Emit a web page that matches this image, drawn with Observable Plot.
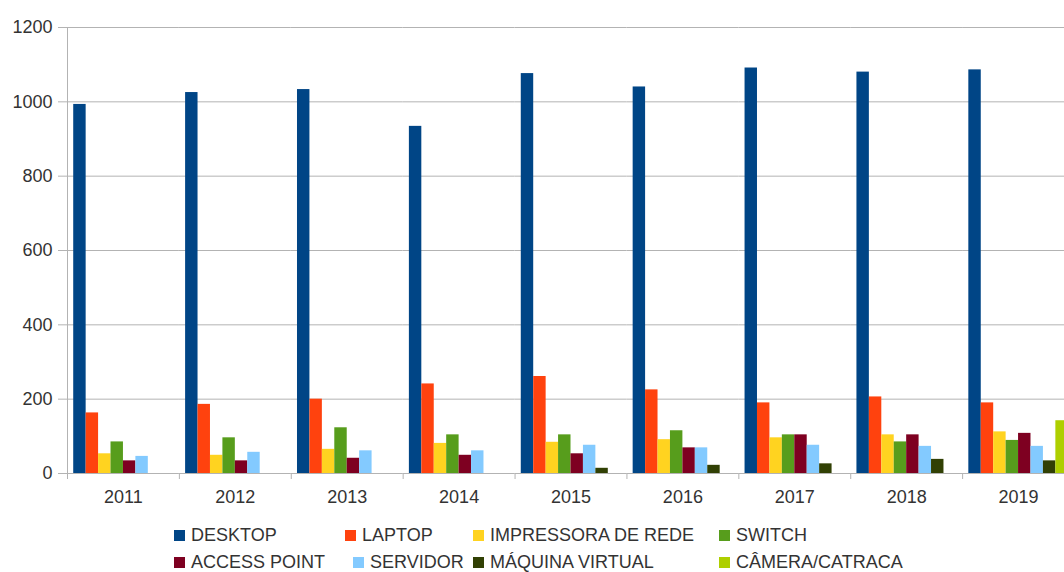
<!DOCTYPE html>
<html>
<head>
<meta charset="utf-8">
<script src="https://cdn.jsdelivr.net/npm/d3@7"></script>
<script src="https://cdn.jsdelivr.net/npm/@observablehq/plot@0.6"></script>
<style>
  html, body { margin: 0; padding: 0; background: #fff; }
  html { overflow: hidden; }
  body { width: 1064px; height: 572px; overflow: hidden; position: relative; font-family: "Liberation Sans", Arial, sans-serif; }
  #chart { position: absolute; left: 0; top: 0; width: 1074px; }
  #chart svg { max-width: none !important; }
  .leg { position: absolute; font-size: 18px; color: #333; line-height: 18px; white-space: nowrap; }
  .sw { position: absolute; width: 11px; height: 11px; }
</style>
</head>
<body>
<div id="chart"></div>
<div id="legend"></div>
<script>
// ---- data ----
const years = ["2011", "2012", "2013", "2014", "2015", "2016", "2017", "2018", "2019"];
const series = ["DESKTOP", "LAPTOP", "IMPRESSORA DE REDE", "SWITCH", "ACCESS POINT", "SERVIDOR", "MÁQUINA VIRTUAL", "CÂMERA/CATRACA"];
const colors = ["#004586", "#ff420e", "#ffd320", "#579d1c", "#7e0021", "#83caff", "#314004", "#aecf00"];
const yTicks = [0, 200, 400, 600, 800, 1000, 1200];

const desktop    = [993, 1025, 1033, 934, 1076, 1040, 1091, 1080, 1086];
const laptop     = [163, 186, 200, 241, 261, 225, 190, 206, 190];
const impressora = [53, 49, 65, 81, 84, 91, 96, 104, 112];
const switches   = [85, 96, 123, 104, 104, 115, 104, 85, 89];
const accessPt   = [34, 34, 41, 49, 53, 69, 104, 104, 108];
const servidor   = [46, 57, 61, 61, 76, 69, 76, 73, 73];
const maquinaVirtual = [null, null, null, null, 14, 22, 26, 38, 34];
const camera     = [null, null, null, null, null, null, null, null, 142];

const seriesValues = [desktop, laptop, impressora, switches, accessPt, servidor, maquinaVirtual, camera];

const data = [];
years.forEach((yr, i) => {
  series.forEach((s, j) => {
    const v = seriesValues[j][i];
    if (v != null) data.push({year: yr, series: s, value: v});
  });
});

// ---- chart ----
// plot area runs a little past the right edge of the 1064px window, as in the original
const W = 1074, H = 515, mL = 67, mR = 0;
const bandW = (W - mR - mL) / years.length;
const grid = "#b3b3b3";

const chart = Plot.plot({
  width: W,
  height: H,
  marginLeft: mL,
  marginRight: mR,
  marginTop: 27,
  marginBottom: 42,
  style: {fontFamily: "'Liberation Sans', Arial, sans-serif", fontSize: "18px", color: "#333", background: "white", maxWidth: "none"},
  fx: {domain: years, padding: 0, round: false, label: null},
  x: {domain: series, paddingInner: 0, paddingOuter: 0.5, round: false, axis: null},
  y: {domain: [0, 1200], label: null},
  color: {domain: series, range: colors},
  marks: [
    Plot.gridY(yTicks, {stroke: grid, strokeOpacity: 1}),
    Plot.axisY(yTicks, {tickSize: 9, tickPadding: 6, stroke: grid, fill: "#333", label: null, tickFormat: (d) => String(d)}),
    Plot.barY(data, {fx: "year", x: "series", y: "value", fill: "series"}),
    Plot.gridFx(["2011"], {dx: -bandW / 2, stroke: grid, strokeOpacity: 1, facetAnchor: "left"}),
    Plot.axisFx({anchor: "bottom", tickSize: 6, tickFormat: () => "", dx: -bandW / 2, stroke: grid, label: null}),
    Plot.axisFx({anchor: "bottom", tickSize: 0, tickPadding: 17, fill: "#333", label: null})
  ]
});
document.getElementById("chart").appendChild(chart);

// ---- legend ----
const legendPos = [[174, 535], [345, 535], [473, 535], [719, 535], [174, 562], [353, 562], [473, 562], [719, 562]];
const legend = document.getElementById("legend");
series.forEach((s, j) => {
  const [lx, ly] = legendPos[j];
  const sw = document.createElement("div");
  sw.className = "sw";
  sw.style.left = lx + "px";
  sw.style.top = (ly - 5.5) + "px";
  sw.style.background = colors[j];
  legend.appendChild(sw);
  const t = document.createElement("div");
  t.className = "leg";
  t.style.left = (lx + 17) + "px";
  t.style.top = (ly - 9) + "px";
  t.textContent = s;
  legend.appendChild(t);
});
</script>
</body>
</html>
